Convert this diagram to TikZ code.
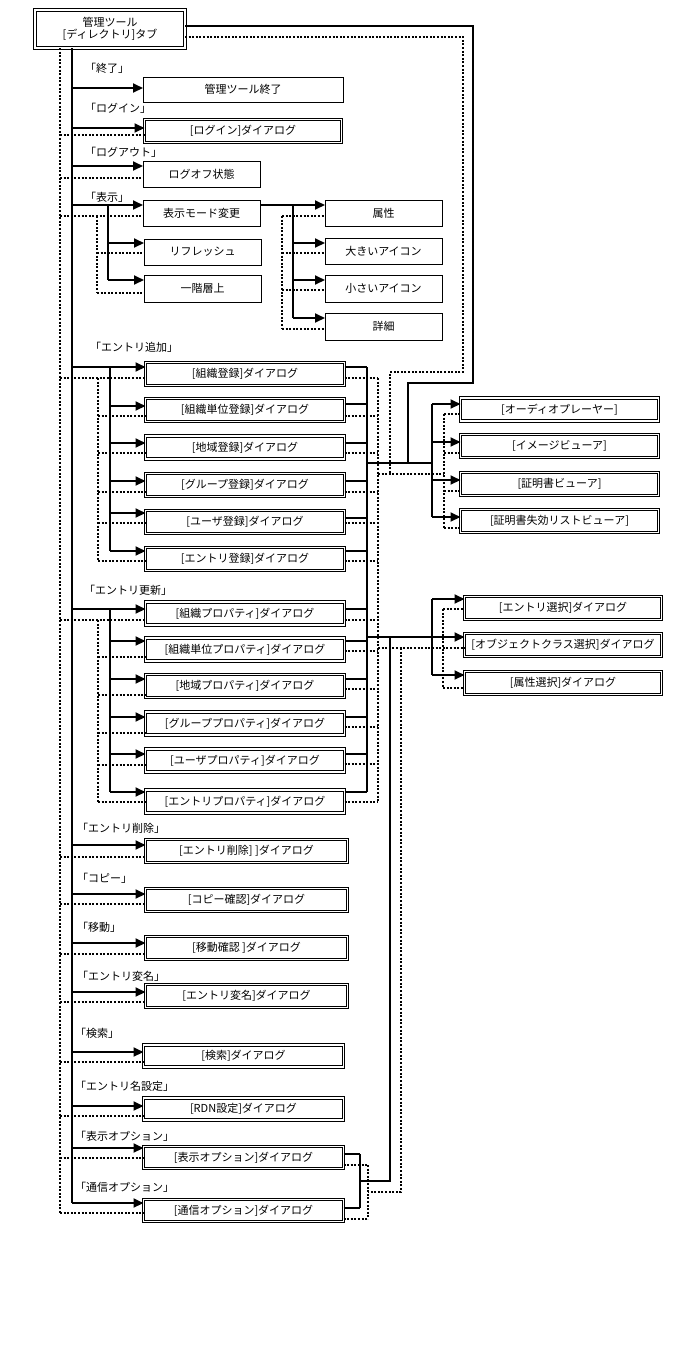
\documentclass[tikz,border=0pt]{standalone}
\usepackage{fontspec}
\newfontfamily\jp{Noto Sans CJK JP}
\usetikzlibrary{arrows.meta}
\tikzset{
  txt/.style={font=\jp\fontsize{11}{13}\selectfont},
  sbox/.style={draw, line width=1pt, inner sep=0pt, outer sep=0pt, txt},
  dbox/.style={sbox, line width=0.8pt, double, double distance=1.6pt},
  sl/.style={line width=2pt},
  dl/.style={line width=2pt, dash pattern=on 2pt off 1.6pt},
  arr/.style={sl, -{Triangle[length=10pt,width=9pt]}},
  lab/.style={anchor=west, inner sep=0pt, txt}
}
\begin{document}
\begin{tikzpicture}[x=1pt,y=-1pt]
\useasboundingbox[fill=white] (0,0) rectangle (690,1350);
% top box
\node[sbox, line width=1.2pt, double, double distance=2pt, minimum width=150, minimum height=38, align=center] (top) at (110,29) {管理ツール\\[-1pt][ディレクトリ]タブ};
% single boxes
\node[sbox, minimum width=200, minimum height=25] (S1) at (243,89.5) {管理ツール終了};
\node[dbox, minimum width=197, minimum height=23] (D2) at (243,131) {[ログイン]ダイアログ};
\node[sbox, minimum width=117, minimum height=26] (S3) at (201.5,174) {ログオフ状態};
\node[sbox, minimum width=117, minimum height=26] (S4) at (201.5,213) {表示モード変更};
\node[sbox, minimum width=117, minimum height=26] (S5) at (202.5,252) {リフレッシュ};
\node[sbox, minimum width=117, minimum height=27] (S6) at (202.5,288.5) {一階層上};
\node[sbox, minimum width=117, minimum height=26] (S7) at (383.5,213) {属性};
\node[sbox, minimum width=117, minimum height=26] (S8) at (383.5,251) {大きいアイコン};
\node[sbox, minimum width=117, minimum height=27] (S9) at (383.5,288.5) {小さいアイコン};
\node[sbox, minimum width=117, minimum height=27] (S10) at (383.5,326.5) {詳細};
% entry add
\foreach \n/\y/\t in {A1/374/[組織登録]ダイアログ, A2/410/[組織単位登録]ダイアログ, A3/447.5/[地域登録]ダイアログ, A4/485/[グループ登録]ダイアログ, A5/522/[ユーザ登録]ダイアログ, A6/559/[エントリ登録]ダイアログ}
  \node[dbox, minimum width=199, minimum height=23] (\n) at (245,\y) {\t};
% entry update
\foreach \n/\y/\t in {U1/613.5/[組織プロパティ]ダイアログ, U2/649.5/[組織単位プロパティ]ダイアログ, U3/686/[地域プロパティ]ダイアログ, U4/723.5/[グループプロパティ]ダイアログ, U5/760.5/[ユーザプロパティ]ダイアログ, U6/801.5/[エントリプロパティ]ダイアログ}
  \node[dbox, minimum width=199, minimum height=23] (\n) at (245,\y) {\t};
% delete etc
\foreach \n/\y/\t in {E1/851/[エントリ削除] ]ダイアログ, E2/900/[コピー確認]ダイアログ, E3/948/[移動確認 ]ダイアログ, E4/996/[エントリ変名]ダイアログ}
  \node[dbox, minimum width=202, minimum height=23] (\n) at (246.5,\y) {\t};
\foreach \n/\y/\t in {O1/1056/[検索]ダイアログ, O2/1109/[RDN設定]ダイアログ, O3/1157.5/[表示オプション]ダイアログ, O4/1210.5/[通信オプション]ダイアログ}
  \node[dbox, minimum width=200, minimum height=22] (\n) at (243.5,\y) {\t};
% viewers
\foreach \n/\y/\t in {V1/409.5/[オーディオプレーヤー], V2/446/[イメージビューア], V3/484/[証明書ビューア], V4/521/[証明書失効リストビューア]}
  \node[dbox, minimum width=198, minimum height=23] (\n) at (559.5,\y) {\t};
% selects
\foreach \n/\y/\t in {L1/608/[エントリ選択]ダイアログ, L2/645/[オブジェクトクラス選択]ダイアログ, L3/683/[属性選択]ダイアログ}
  \node[dbox, minimum width=197, minimum height=23] (\n) at (563,\y) {\t};
% labels
\foreach \x/\y/\t in {90/68/「終了」, 90/108/「ログイン」, 90/152/「ログアウト」, 90/197/「表示」, 95/347/「エントリ追加」, 89/590/「エントリ更新」, 82/828/「エントリ削除」, 82/878/「コピー」, 82/927/「移動」, 82/976/「エントリ変名」, 80/1033/「検索」, 80/1086/「エントリ名設定」, 80/1136/「表示オプション」, 80/1187/「通信オプション」}
  \node[lab] at (\x-5,\y) {\t};
% main lines
\coordinate (mS) at (72,1203);
\coordinate (mD) at (60,1213);
\draw[sl] (top.south -| mS) -- (mS);
\draw[dl] (top.south -| mD) -- (mD);
\foreach \y/\n in {88/S1, 128/D2, 166/S3, 205/S4, 367/A1, 609/U1, 845/E1, 894/E2, 943/E3, 992/E4, 1052/O1, 1106/O2, 1148/O3, 1203/O4}
  \draw[arr] (72,\y) -- (\n.west |- 0,\y);
\foreach \y/\n in {135/D2, 178/S3, 216/S4, 378/A1, 620/U1, 857/E1, 904/E2, 954/E3, 1002/E4, 1062/O1, 1116/O2, 1158/O3, 1213/O4}
  \draw[dl] (60,\y) -- (\n.west |- 0,\y);
% display sub-branch
\draw[sl] (108,205) -- (108,280);
\foreach \y/\n in {243/S5, 280/S6} \draw[arr] (108,\y) -- (\n.west |- 0,\y);
\draw[dl] (97,216) -- (97,293);
\foreach \y/\n in {253/S5, 293/S6} \draw[dl] (97,\y) -- (\n.west |- 0,\y);
\draw[arr] (S4.east |- 0,205) -- (S7.west |- 0,205);
\draw[sl] (293,205) -- (293,318);
\foreach \y/\n in {243/S8, 280/S9, 318/S10} \draw[arr] (293,\y) -- (\n.west |- 0,\y);
\draw[dl] (282,216) -- (282,329);
\foreach \y/\n in {216/S7, 253/S8, 290/S9, 329/S10} \draw[dl] (282,\y) -- (\n.west |- 0,\y);
% entry add sub
\draw[sl] (110,367) -- (110,551);
\foreach \y/\n in {406/A2, 443/A3, 481/A4, 513/A5, 551/A6} \draw[arr] (110,\y) -- (\n.west |- 0,\y);
\draw[dl] (98,378) -- (98,561);
\foreach \y/\n in {416/A2, 453/A3, 492/A4, 523/A5, 561/A6} \draw[dl] (98,\y) -- (\n.west |- 0,\y);
\foreach \y/\n in {367/A1, 404/A2, 443/A3, 481/A4, 518/A5, 551/A6} \draw[sl] (\n.east |- 0,\y) -- (367,\y);
\foreach \y/\n in {378/A1, 416/A2, 453/A3, 492/A4, 523/A5, 561/A6} \draw[dl] (\n.east |- 0,\y) -- (378,\y);
% entry update sub
\draw[sl] (110,609) -- (110,792);
\foreach \y/\n in {641/U2, 679/U3, 717/U4, 754/U5, 792/U6} \draw[arr] (110,\y) -- (\n.west |- 0,\y);
\draw[dl] (98,620) -- (98,802);
\foreach \y/\n in {657/U2, 695/U3, 733/U4, 765/U5, 802/U6} \draw[dl] (98,\y) -- (\n.west |- 0,\y);
\foreach \y/\n in {609/U1, 641/U2, 679/U3, 717/U4, 754/U5, 792/U6} \draw[sl] (\n.east |- 0,\y) -- (367,\y);
\foreach \y/\n in {620/U1, 651/U2, 689/U3, 727/U4, 764/U5, 802/U6} \draw[dl] (\n.east |- 0,\y) -- (378,\y);
% right buses
\draw[sl] (367,367) -- (367,792);
\draw[dl] (378,378) -- (378,802);
% viewers
\draw[sl] (367,463) -- (432,463);
\draw[sl] (432,404) -- (432,517);
\foreach \y/\n in {404/V1, 442/V2, 480/V3, 517/V4} \draw[arr] (432,\y) -- (\n.west |- 0,\y);
\draw[sl] (top.east |- 0,26) -- (473,26) -- (473,383) -- (408,383) -- (408,463);
\draw[dl] (top.east |- 0,37) -- (463,37) -- (463,372) -- (390,372) -- (390,474);
\draw[dl] (378,474) -- (444,474);
\draw[dl] (444,414) -- (444,528);
\foreach \y/\n in {414/V1, 453/V2, 491/V3, 528/V4} \draw[dl] (444,\y) -- (\n.west |- 0,\y);
% selects
\draw[arr] (367,637) -- (L2.west |- 0,637);
\draw[sl] (432,599) -- (432,675);
\foreach \y/\n in {599/L1, 675/L3} \draw[arr] (432,\y) -- (\n.west |- 0,\y);
\draw[dl] (378,648) -- (L2.west |- 0,648);
\draw[dl] (443,609) -- (443,688);
\foreach \y/\n in {609/L1, 688/L3} \draw[dl] (443,\y) -- (\n.west |- 0,\y);
% options
\draw[sl] (390,637) -- (390,1181) -- (360,1181);
\draw[sl] (360,1154) -- (360,1208);
\foreach \y/\n in {1154/O3, 1208/O4} \draw[sl] (\n.east |- 0,\y) -- (360,\y);
\draw[dl] (401,648) -- (401,1192) -- (368,1192);
\draw[dl] (368,1165) -- (368,1219);
\foreach \y/\n in {1165/O3, 1219/O4} \draw[dl] (\n.east |- 0,\y) -- (368,\y);
\end{tikzpicture}
\end{document}
